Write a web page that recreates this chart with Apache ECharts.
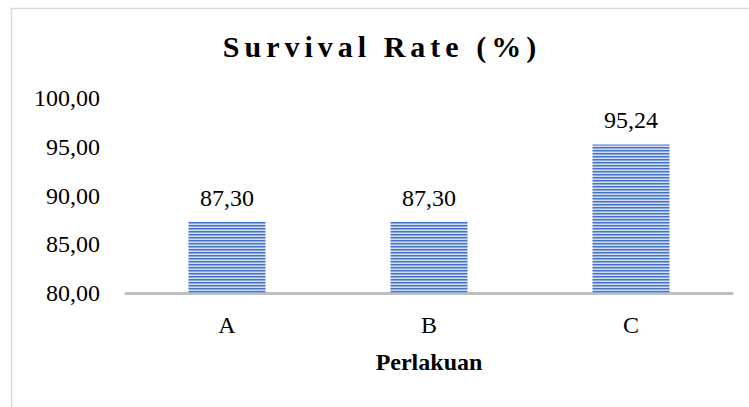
<!DOCTYPE html>
<html>
<head>
<meta charset="utf-8">
<script src="https://cdn.jsdelivr.net/npm/echarts@6/dist/echarts.min.js"></script>
<style>
  html, body { margin: 0; padding: 0; background: #fff; }
  #chart { width: 749px; height: 407px; }
</style>
</head>
<body>
<div id="chart"></div>
<script>
const titleText = 'Survival Rate (%)'
const categories = ['A', 'B', 'C']
const survival = [87.30, 87.30, 95.24]
const xName = 'Perlakuan'

const serif = "'Liberation Serif', 'Times New Roman', serif"

// striped fill like the Excel bar pattern
const makeStripes = () => {
  const c = document.createElement('canvas')
  c.width = 4
  c.height = 3
  const ctx = c.getContext('2d')
  const rows = ['#4472c4', '#8eaadb', '#d0dcf1']
  rows.forEach((col, i) => {
    ctx.fillStyle = col
    ctx.fillRect(0, i, 4, 1)
  })
  return c.toDataURL()
}

const fmt = v => Number(v).toFixed(2).replace('.', ',')

const chart = echarts.init(document.getElementById('chart'), null, { renderer: 'svg' })

const option = {
  backgroundColor: '#fff',
  animation: false,
  title: {
    text: titleText,
    left: 377,
    textAlign: 'center',
    top: 26,
    textStyle: {
      fontFamily: serif,
      fontSize: 30,
      fontWeight: 'bold',
      color: '#000'
    }
  },
  graphic: [
    {
      type: 'rect',
      silent: true,
      shape: { x: 11.5, y: 8.5, width: 780, height: 440 },
      style: { fill: 'none', stroke: '#d9d9d9', lineWidth: 1.5 }
    }
  ],
  grid: {
    left: 126,
    right: 17,
    top: 98,
    bottom: 114
  },
  xAxis: {
    type: 'category',
    data: categories,
    name: xName,
    nameLocation: 'middle',
    nameGap: 57,
    nameTextStyle: {
      fontFamily: serif,
      fontSize: 24,
      fontWeight: 'bold',
      color: '#000'
    },
    axisLine: { lineStyle: { color: '#bfbfbf', width: 3 } },
    axisTick: { show: false },
    axisLabel: {
      fontFamily: serif,
      fontSize: 24,
      color: '#000',
      margin: 20
    }
  },
  yAxis: {
    type: 'value',
    min: 80,
    max: 100,
    interval: 5,
    axisLine: { show: false },
    axisTick: { show: false },
    splitLine: { show: false },
    axisLabel: {
      fontFamily: serif,
      fontSize: 24,
      color: '#000',
      margin: 26,
      formatter: v => fmt(v)
    }
  },
  series: [
    {
      type: 'bar',
      data: survival,
      barWidth: 77,
      itemStyle: {
        color: { image: makeStripes(), repeat: 'repeat' }
      },
      label: {
        show: true,
        position: 'top',
        distance: 12,
        fontFamily: serif,
        fontSize: 24,
        color: '#000',
        formatter: p => fmt(p.value)
      }
    }
  ]
}

chart.setOption(option)

// expanded character spacing on the title (Excel style)
const spaceTitle = () => {
  document.querySelectorAll('#chart svg text').forEach(t => {
    if (t.textContent === titleText) {
      t.style.letterSpacing = '5px'
    }
  })
}
chart.on('finished', spaceTitle)
spaceTitle()
</script>
</body>
</html>
